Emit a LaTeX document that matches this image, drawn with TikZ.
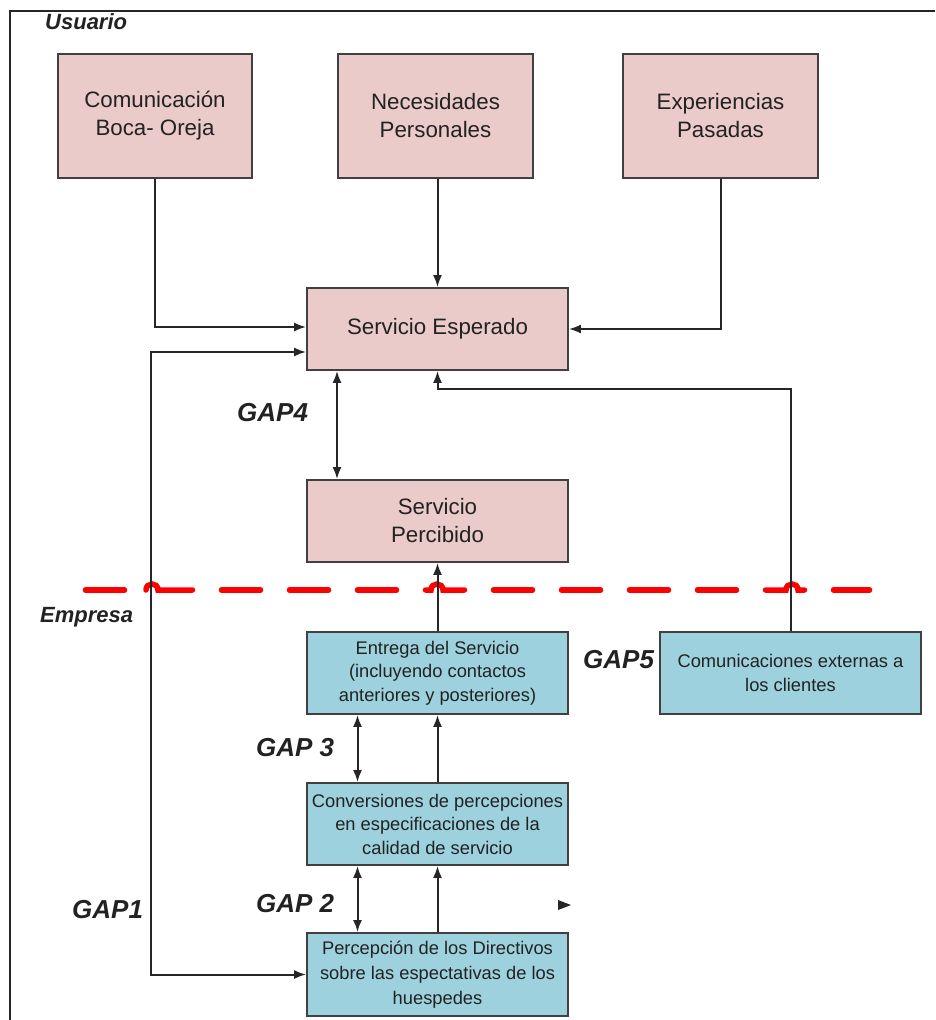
\documentclass[tikz,border=0pt]{standalone}
\usepackage{fontspec}
\setmainfont{Liberation Sans}
\usetikzlibrary{arrows.meta}
\definecolor{pinkfill}{HTML}{EBCACA}
\definecolor{bluefill}{HTML}{9DD1DE}
\definecolor{inkc}{HTML}{222222}
\begin{document}
\begin{tikzpicture}[x=1pt,y=-1pt,
  box/.style={draw=black!75, line width=1.8pt, align=center, inner sep=0pt, text=inkc},
  pinkbox/.style={box, fill=pinkfill, font=\fontsize{22.3}{28}\selectfont},
  bluebox/.style={box, fill=bluefill, font=\fontsize{18.3}{23.5}\selectfont},
  tip/.tip={Latex[length=12pt,width=9pt]},
  conn/.style={draw=black!85, line width=2pt, -tip},
  biconn/.style={draw=black!85, line width=2pt, tip-tip},
  gap/.style={font=\fontsize{26}{30}\selectfont\bfseries\itshape, text=inkc, inner sep=0pt, anchor=west},
  zone/.style={font=\fontsize{22}{26}\selectfont\bfseries\itshape, text=inkc, inner sep=0pt, anchor=west},
  divider/.style={draw=red, line width=5.5pt, line cap=round}]
\useasboundingbox (0,0) rectangle (935,1020);

% frame
\draw[line width=2pt, black!85] (935,11) -- (10,11) -- (10,1020);

% zone labels
\node[zone] (usuario) at (45,22) {Usuario};
\node[zone] (empresa) at (40,617) {Empresa};

% boundary between user and company: dashes, three of them hopping over vertical lines
\foreach \a in {83,219,287,355,491,559,627,695}
  \draw[divider] (\a+2.5,590) -- (\a+41.5,590);
\draw[divider] (831+2.5,590) -- (869.5,590);
\draw[divider] (146,590) .. controls (146,582) and (158,582) .. (158,590) -- (192.5,590);
\draw[divider] (425.5,590) -- (431,590) .. controls (431,582) and (443,582) .. (443,590) -- (464.5,590);
\draw[divider] (765.5,590) -- (786,590) .. controls (786,582) and (798,582) .. (798,590) -- (804.5,590);

% user side
\node[pinkbox, minimum width=194pt, minimum height=124pt] (boca) at (155,116) {Comunicación\\Boca- Oreja};
\node[pinkbox, minimum width=195pt, minimum height=124pt] (nec) at (435.5,116) {Necesidades\\Personales};
\node[pinkbox, minimum width=195pt, minimum height=124pt] (exp) at (720.5,116) {Experiencias\\Pasadas};
\node[pinkbox, minimum width=261pt, minimum height=82pt] (esp) at (437.5,329) {Servicio Esperado};
\node[pinkbox, minimum width=261pt, minimum height=82pt] (perc) at (437.5,521) {Servicio\\Percibido};

% company side
\node[bluebox, minimum width=261pt, minimum height=82pt] (entrega) at (437.5,673) {Entrega del Servicio\\(incluyendo contactos\\anteriores y posteriores)};
\node[bluebox, minimum width=261pt, minimum height=82pt] (extern) at (790.5,673) {Comunicaciones externas a\\los clientes};
\node[bluebox, minimum width=261pt, minimum height=82pt] (conv) at (437.5,824) {Conversiones de percepciones\\en especificaciones de la\\calidad de servicio};
\node[bluebox, minimum width=261pt, minimum height=83pt, font=\fontsize{18.3}{25}\selectfont] (dir) at (437.5,974.5) {Percepción de los Directivos\\sobre las espectativas de los\\huespedes};

% gap labels
\node[gap] (g4) at (237,413) {GAP4};
\node[gap] (g5) at (583,660) {GAP5};
\node[gap] (g3) at (256,748) {GAP 3};
\node[gap] (g2) at (256,904) {GAP 2};
\node[gap] (g1) at (72,910) {GAP1};

% connectors
\draw[conn] (boca.south) |- ([yshift=2pt]esp.west);
\draw[conn] (nec.south -| esp.north) -- (esp.north);
\draw[conn] (exp.south) |- (esp.east);
\draw[biconn] ([yshift=-23pt]esp.west) -- ++(-155,0) |- (dir.west);
\draw[biconn] ([xshift=-100.5pt]esp.south) -- ([xshift=-100.5pt]perc.north);
\draw[conn] (entrega.north) -- (perc.south);
\draw[conn] (extern.north) -- ++(0,-242) -| (esp.south);
\draw[biconn] ([xshift=-80pt]entrega.south) -- ([xshift=-80pt]conv.north);
\draw[conn] (conv.north) -- (entrega.south);
\draw[biconn] ([xshift=-80pt]conv.south) -- ([xshift=-80pt]dir.north);
\draw[conn] (dir.north) -- (conv.south);

% loose arrow tip
\fill[black!85] (558,900) -- (571,905) -- (558,910) -- cycle;
\end{tikzpicture}
\end{document}
